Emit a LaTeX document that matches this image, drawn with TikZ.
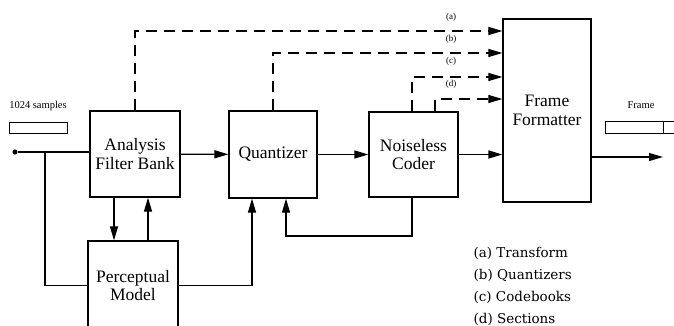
\documentclass[tikz,border=0pt]{standalone}
\usepackage{fontspec}
\setmainfont{Liberation Serif}
\newfontfamily\legendfont{DejaVu Serif}
\usetikzlibrary{arrows.meta}

\begin{document}
\begin{tikzpicture}[x=1pt,y=-1pt,line width=1.2pt,
    >={Triangle[length=14pt,width=8pt]},
    block/.style={draw,align=center,font=\fontsize{17.5}{18.5}\selectfont},
    side/.style={line width=1.1pt,dash pattern=on 11pt off 7pt},
    tag/.style={font=\fontsize{9}{10}\selectfont},
    legend/.style={anchor=west,inner sep=0pt,font=\legendfont\fontsize{13.5}{15}\selectfont}]
    \useasboundingbox (0,0) rectangle (674,326);

    \node[block,minimum width=90pt,minimum height=86pt] (afb) at (135,154) {Analysis\\Filter Bank};
    \node[block,minimum width=88pt,minimum height=87pt] (q) at (273,154.5) {Quantizer};
    \node[block,minimum width=89pt,minimum height=85pt] (nc) at (413.5,154.5) {Noiseless\\Coder};
    \node[block,minimum width=88pt,minimum height=183pt] (ff) at (547,110.5) {Frame\\Formatter};
    \node[block,minimum width=90pt,minimum height=89pt] (pm) at (133,285.5) {Perceptual\\Model};

    % input and output frames
    \node[font=\fontsize{10.5}{12}\selectfont] (smp) at (38,106) {1024 samples};
    \node[draw,line width=1pt,minimum width=58pt,minimum height=10pt,inner sep=0pt] (sbox) at (38,128) {};
    \node[font=\fontsize{10.5}{12}\selectfont] (frm) at (641,105) {Frame};
    \node[draw,line width=1pt,minimum width=72pt,minimum height=11pt,inner sep=0pt] (fbox) at (641,127.5) {};
    \draw[line width=1pt] (663,122) -- (663,133);

    \node[circle,fill,inner sep=1.8pt] (in) at (15,152) {};
    \coordinate (out) at (663,157);

    % main path
    \draw (in) -- (in -| afb.west);
    \draw (in -| 45,0) |- (pm.west);
    \draw[->] (afb) -- (q);
    \draw[->] (q) -- (nc);
    \draw[->] (nc.east) -- (nc.east -| ff.west);
    \draw[->] (ff.east |- out) -- (out);

    % perceptual model and feedback
    \draw[->] (afb.south -| 114,0) -- (pm.north -| 114,0);
    \draw[->] (pm.north -| 148,0) -- (afb.south -| 148,0);
    \draw[->] (pm.east) -| (q.south -| 252,0);
    \draw[->] (nc.south -| 412,0) |- (286,236) -- (q.south -| 286,0);

    % side information
    \draw[side,->] (afb.north) |- (ff.west |- 0,31);
    \draw[side,->] (q.north) |- (ff.west |- 0,53);
    \draw[side,->] (nc.north -| 412,0) |- (ff.west |- 0,77);
    \draw[side,->] (nc.north -| 435,0) |- (ff.west |- 0,99);
    \node[tag] (ta) at (451,17) {(a)};
    \node[tag] (tb) at (451,39) {(b)};
    \node[tag] (tc) at (451,61) {(c)};
    \node[tag] (td) at (451,84) {(d)};

    \node[legend] (la) at (473,253) {(a) Transform};
    \node[legend] (lb) at (473,275.5) {(b) Quantizers};
    \node[legend] (lc) at (473,297.5) {(c) Codebooks};
    \node[legend] (ld) at (473,319.5) {(d) Sections};
\end{tikzpicture}
\end{document}
